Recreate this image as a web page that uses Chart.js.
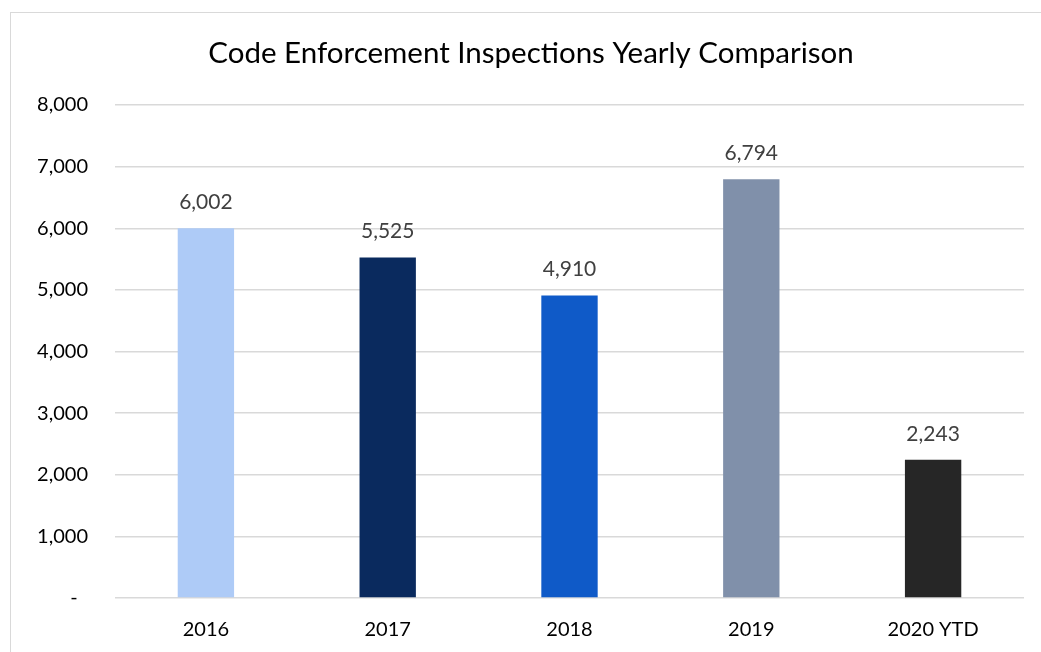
<!DOCTYPE html>
<html>
<head>
<meta charset="utf-8">
<script src="https://cdn.jsdelivr.net/npm/chart.js@4.4.1/dist/chart.umd.min.js"></script>
<style>
    html, body { margin: 0; padding: 0; background: #fff; }
    #wrap { position: absolute; left: 0; top: 0; width: 1041px; height: 652px; }
    #frame { position: absolute; left: 10px; top: 12px; width: 1100px; height: 700px; border: 1px solid #d9d9d9; }
    canvas { position: absolute; left: 0; top: 0; }
</style>
</head>
<body>
<div id="wrap">
    <div id="frame"></div>
    <canvas id="chart" width="1041" height="652"></canvas>
</div>
<script>
const chartTitle = "Code Enforcement Inspections Yearly Comparison";
const years = ["2016", "2017", "2018", "2019", "2020 YTD"];
const inspections = [6002, 5525, 4910, 6794, 2243];
const barColors = ["#aecbf7", "#0a2a5e", "#0f5ac8", "#8090aa", "#262626"];
const yTicks = [0, 1000, 2000, 3000, 4000, 5000, 6000, 7000, 8000];

const FONT = "Lato, 'Open Sans', sans-serif";

const formatNumber = (value) => new Intl.NumberFormat("en-US").format(value);

// title centred on the outer frame, not the canvas
const frameTitle = {
    id: "frameTitle",
    afterDraw(chart) {
        const ctx = chart.ctx;
        ctx.save();
        ctx.font = "29.5px " + FONT;
        ctx.fillStyle = "#000";
        ctx.textAlign = "center";
        ctx.textBaseline = "middle";
        ctx.fillText(chartTitle, 531, 53);
        ctx.restore();
    },
};

// draws the value above each bar, like Excel data labels
const barLabels = {
    id: "barLabels",
    afterDatasetsDraw(chart) {
        const ctx = chart.ctx;
        const meta = chart.getDatasetMeta(0);
        ctx.save();
        ctx.font = "21px " + FONT;
        ctx.fillStyle = "#404040";
        ctx.textAlign = "center";
        ctx.textBaseline = "middle";
        meta.data.forEach((bar, i) => {
            ctx.fillText(formatNumber(inspections[i]), bar.x, bar.y - 26);
        });
        ctx.restore();
    },
};

new Chart(document.getElementById("chart"), {
    type: "bar",
    data: {
        labels: years,
        datasets: [
            {
                data: inspections,
                backgroundColor: barColors,
                borderWidth: 0,
                categoryPercentage: 1,
                barPercentage: 0.31,
            },
        ],
    },
    options: {
        responsive: false,
        animation: false,
        devicePixelRatio: 1,
        layout: {
            padding: { left: 15, right: 17, top: 105, bottom: 0 },
        },
        plugins: {
            legend: { display: false },
            tooltip: { enabled: false },
            title: { display: false },
        },
        scales: {
            x: {
                afterFit(scale) {
                    scale.height = 54;
                },
                grid: { display: false, drawTicks: false },
                border: { display: false },
                ticks: {
                    color: "#000",
                    padding: 20,
                    font: { family: FONT, size: 20 },
                },
            },
            y: {
                min: 0,
                max: 8000,
                afterFit(scale) {
                    scale.width = 100;
                },
                afterBuildTicks(scale) {
                    scale.ticks = yTicks.map((v) => ({ value: v }));
                },
                grid: { color: "#d9d9d9", lineWidth: 1.5, drawTicks: false },
                border: { display: false },
                ticks: {
                    color: "#000",
                    padding: 27,
                    font: { family: FONT, size: 20 },
                    callback: (value) => (value === 0 ? "-  " : formatNumber(value)),
                },
            },
        },
    },
    plugins: [barLabels, frameTitle],
});
</script>
</body>
</html>
